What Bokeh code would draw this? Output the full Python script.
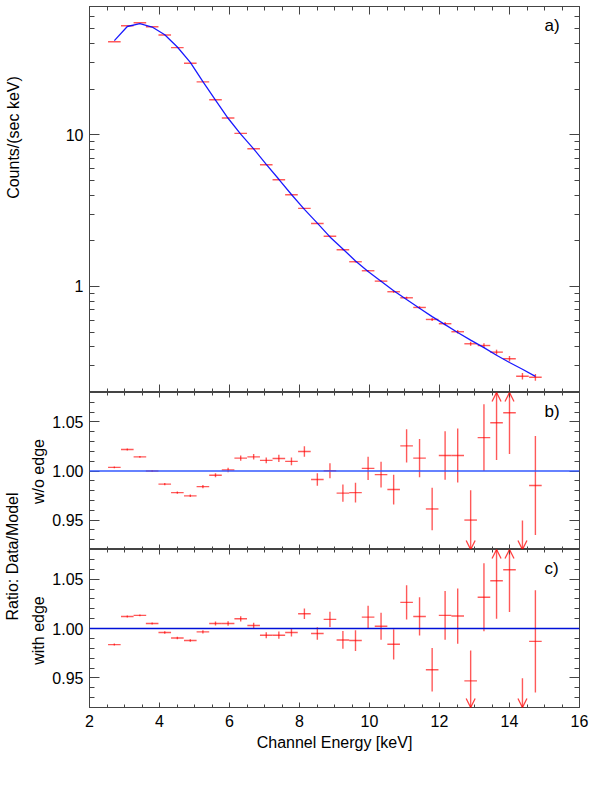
import math
from bokeh.plotting import figure
from bokeh.layouts import row, column
from bokeh.models import (Range1d, LinearAxis, LogAxis, FixedTicker, PrintfTickFormatter,
                          Label, Arrow, OpenHead, ColumnDataSource, Span, CustomLabelingPolicy)
from bokeh.core.properties import value
from bokeh.embed import file_html
from bokeh.resources import INLINE

# ---------------- data ----------------
energy = [2.71, 3.08, 3.44, 3.79, 4.15, 4.51, 4.88, 5.24, 5.60, 5.96,
          6.32, 6.69, 7.05, 7.41, 7.77, 8.14, 8.51, 8.87, 9.24, 9.60,
          9.96, 10.33, 10.69, 11.06, 11.43, 11.79, 12.16, 12.52, 12.89, 13.27,
          13.63, 14.00, 14.37, 14.74]
bin_half = 0.18

counts = [41.0, 52.3, 54.7, 51.5, 45.4, 37.5, 29.6, 22.3, 17.0, 12.9,
          10.2, 8.09, 6.34, 5.05, 4.02, 3.27, 2.60, 2.14, 1.745, 1.455,
          1.269, 1.084, 0.923, 0.842, 0.727, 0.606, 0.568, 0.503, 0.419, 0.408,
          0.369, 0.334, 0.256, 0.252]

ratio_noedge = [1.0037, 1.0219, 1.0144, 1.0000, 0.9866, 0.9780, 0.9747, 0.9841, 0.9956, 1.0010,
                1.0131, 1.0144, 1.0108, 1.0128, 1.0098, 1.0199, 0.9914, 1.0003, 0.9775, 0.9780,
                1.0027, 0.9963, 0.9811, 1.0256, 1.0131, 0.9613, 1.0158, 1.0158, 0.9500, 1.0340,
                1.0492, 1.0593, 0.9000, 0.9852]
err_noedge = [0.0010, 0.0010, 0.0010, 0.0010, 0.0012, 0.0012, 0.0013, 0.0016, 0.0020, 0.0022,
              0.0027, 0.0028, 0.0030, 0.0037, 0.0040, 0.0054, 0.0064, 0.0076, 0.0088, 0.0101,
              0.0118, 0.0130, 0.0152, 0.0170, 0.0194, 0.0217, 0.0246, 0.0276, 0.0303, 0.0340,
              0.0380, 0.0420, 0.0495, 0.0505]

ratio_edge = [0.9837, 1.0122, 1.0133, 1.0051, 0.9959, 0.9904, 0.9878, 0.9966, 1.0051, 1.0051,
              1.0098, 1.0031, 0.9932, 0.9932, 0.9959, 1.0149, 0.9949, 1.0092, 0.9884, 0.9878,
              1.0115, 1.0023, 0.9840, 1.0265, 1.0122, 0.9582, 1.0133, 1.0126, 0.9470, 1.0316,
              1.0483, 1.0595, 0.9000, 0.9870]
err_edge = [0.0010, 0.0010, 0.0010, 0.0010, 0.0012, 0.0012, 0.0013, 0.0016, 0.0020, 0.0022,
            0.0027, 0.0028, 0.0030, 0.0037, 0.0040, 0.0054, 0.0064, 0.0077, 0.0090, 0.0105,
            0.0116, 0.0136, 0.0153, 0.0173, 0.0194, 0.0221, 0.0247, 0.0280, 0.0306, 0.0345,
            0.0384, 0.0429, 0.0496, 0.0517]

x_ticks = [2, 4, 6, 8, 10, 12, 14, 16]
count_ticks = [1, 10]
ratio_ticks = [0.95, 1.00, 1.05]

# ---------------- styling ----------------
FONT = "Liberation Sans"
AXC = "#444444"
RED = "#ff0000"
BLUE = "#0000ff"
RMIN, RMAX = 0.92, 1.08

SIDE_W = 48
LEFT, RIGHT = 41, 10
W = LEFT + 490 + RIGHT

xr = Range1d(2, 16)
x_minor = [2 + 0.5 * i for i in range(29)]
log_minor = [k * 10.0 ** d for d in (-1, 0, 1) for k in range(2, 10)]
ratio_minor = [round(0.90 + 0.01 * i, 2) for i in range(21)]

HIDE_CODE = """
for (const i of indices) { indices.unset(i) }
return indices
"""


def style_axis(ax, ticks, minor, major_in, minor_in, labels, fmt):
    ax.ticker = FixedTicker(ticks=ticks, minor_ticks=minor)
    ax.formatter = PrintfTickFormatter(format=fmt)
    ax.major_tick_in = major_in
    ax.major_tick_out = 0
    ax.minor_tick_in = minor_in
    ax.minor_tick_out = 0
    ax.major_tick_line_color = AXC
    ax.minor_tick_line_color = AXC
    ax.axis_line_color = None
    ax.major_label_text_font = FONT
    ax.major_label_text_color = "black"
    if labels:
        ax.major_label_text_font_size = "16px"
        ax.major_label_standoff = 6
    else:
        ax.major_label_text_font_size = "0px"
        ax.major_label_standoff = 0
        ax.major_label_policy = CustomLabelingPolicy(code=HIDE_CODE)


def base_fig(height, yr, ylog, mb_top, mb_bottom):
    p = figure(width=W, height=height, x_range=xr, y_range=yr,
               y_axis_type="log" if ylog else "linear",
               output_backend="svg", toolbar_location=None,
               min_border_left=LEFT, min_border_right=RIGHT,
               min_border_top=mb_top, min_border_bottom=mb_bottom)
    p.xgrid.visible = False
    p.ygrid.visible = False
    p.outline_line_color = AXC
    p.outline_line_width = 1
    p.background_fill_color = "white"
    p.border_fill_color = "white"
    return p


def add_errbars(p, ys, yerr_lo, yerr_hi):
    src = ColumnDataSource(dict(
        x=energy,
        x0=[e - bin_half for e in energy],
        x1=[e + bin_half for e in energy],
        y=ys, ylo=yerr_lo, yhi=yerr_hi))
    p.segment(x0="x0", x1="x1", y0="y", y1="y", source=src,
              line_color=RED, line_alpha=0.65, line_width=1.4)
    p.segment(x0="x", x1="x", y0="ylo", y1="yhi", source=src,
              line_color=RED, line_alpha=0.65, line_width=1.4)


# ---------------- panel a ----------------
pa = base_fig(392, Range1d(0.2, 70.0), True, 6, 0)
a_below, a_left = pa.xaxis[0], pa.yaxis[0]
style_axis(a_below, x_ticks, x_minor, 8, 4, False, "%d")
style_axis(a_left, count_ticks, log_minor, 10, 5, True, "%d")
ax_top = LinearAxis()
style_axis(ax_top, x_ticks, x_minor, 8, 4, False, "%d")
pa.add_layout(ax_top, "above")
ax_r = LogAxis()
style_axis(ax_r, count_ticks, log_minor, 10, 5, False, "%d")
pa.add_layout(ax_r, "right")

count_err = [c * e for c, e in zip(counts, err_edge)]
add_errbars(pa, counts,
            [c - e for c, e in zip(counts, count_err)],
            [c + e for c, e in zip(counts, count_err)])
model = [c / r for c, r in zip(counts, ratio_edge)]
pa.line(energy, model, line_color=BLUE, line_width=1.3, line_alpha=0.9)
pa.add_layout(Label(x=15.0, y=52.5, text="a)", text_font=FONT, text_font_size="17px",
                    text_baseline="middle", text_align="left", text_color="black"))


# ---------------- ratio panels ----------------
def ratio_panel(height, mb_bottom, ratio, err, tag, line_color, line_alpha, line_width, last):
    p = base_fig(height, Range1d(RMIN, RMAX), False, 0, mb_bottom)
    below, left = p.xaxis[0], p.yaxis[0]
    style_axis(below, x_ticks, x_minor, 5, 3, last, "%d")
    style_axis(left, ratio_ticks, ratio_minor, 10, 5, True, "%.2f")
    a_top = LinearAxis()
    style_axis(a_top, x_ticks, x_minor, 5, 3, False, "%d")
    p.add_layout(a_top, "above")
    a_r = LinearAxis()
    style_axis(a_r, ratio_ticks, ratio_minor, 10, 5, False, "%.2f")
    p.add_layout(a_r, "right")
    if last:
        below.major_label_standoff = 7
        below.axis_label = "Channel Energy [keV]"
        below.axis_label_text_font = FONT
        below.axis_label_text_font_size = "16px"
        below.axis_label_text_font_style = "normal"
        below.axis_label_text_color = "black"
        below.axis_label_standoff = 4

    p.add_layout(Span(location=1.0, dimension="width", line_color=line_color,
                      line_alpha=line_alpha, line_width=line_width))
    add_errbars(p, ratio,
                [r - e for r, e in zip(ratio, err)],
                [r + e for r, e in zip(ratio, err)])

    ups = dict(xs=[], ys=[], xe=[], ye=[])
    downs = dict(xs=[], ys=[], xe=[], ye=[])
    for x, r, e in zip(energy, ratio, err):
        if r + e > RMAX:
            ups["xs"].append(x); ups["ys"].append(max(r - e, RMIN))
            ups["xe"].append(x); ups["ye"].append(RMAX)
        if r - e < RMIN:
            downs["xs"].append(x); downs["ys"].append(min(r + e, RMAX))
            downs["xe"].append(x); downs["ye"].append(RMIN)
    for d in (ups, downs):
        if d["xs"]:
            p.add_layout(Arrow(end=OpenHead(size=9, line_color=RED, line_alpha=0.75, line_width=1.3),
                               source=ColumnDataSource(d), x_start="xs", y_start="ys",
                               x_end="xe", y_end="ye", line_alpha=0.0, line_color=RED))
    p.add_layout(Label(x=15.0, y=1.0605, text=tag, text_font=FONT, text_font_size="17px",
                       text_baseline="middle", text_align="left", text_color="black"))
    return p


pb = ratio_panel(157, 0, ratio_noedge, err_noedge, "b)", "#3358ff", 0.75, 2.0, False)
pc = ratio_panel(210, 52, ratio_edge, err_edge, "c)", "#0010d8", 1.0, 1.4, True)

TOTAL_H = 392 + 157 + 210

# ---------------- side label strip ----------------
side = figure(width=SIDE_W, height=TOTAL_H, x_range=Range1d(0, SIDE_W), y_range=Range1d(TOTAL_H, 0),
              output_backend="svg", toolbar_location=None,
              x_axis_location=None, y_axis_location=None,
              min_border_left=0, min_border_right=0, min_border_top=0, min_border_bottom=0)
side.xgrid.visible = False
side.ygrid.visible = False
side.outline_line_color = None
side_labels = ["Counts/(sec keV)", "Ratio: Data/Model", "w/o edge", "with edge"]
side.text(x=[13, 12, 38, 38], y=[137, 556, 471, 630], text=side_labels,
          angle=math.pi / 2, text_align="center", text_baseline="middle",
          text_font=value(FONT), text_font_size="16px", text_color="black")

layout = row(side, column(pa, pb, pc, spacing=0), spacing=0)
open("out.html", "w").write(file_html(layout, INLINE))
